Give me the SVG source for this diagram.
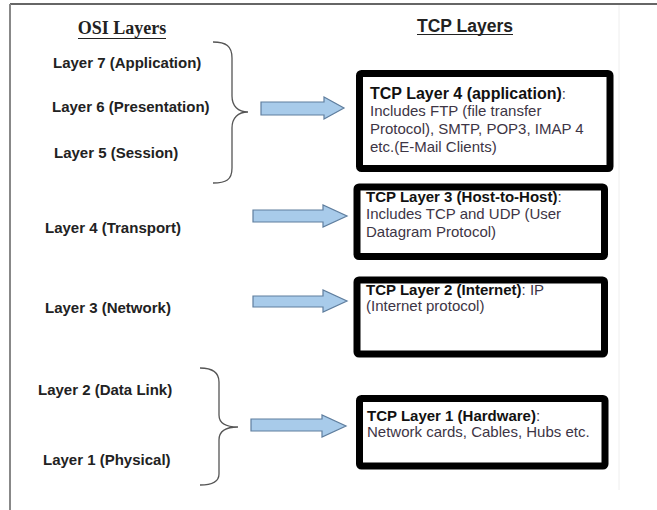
<svg xmlns="http://www.w3.org/2000/svg" width="657" height="510" viewBox="0 0 657 510">
<style>
.bg{fill:#fff}
.osi{font-family:"Liberation Sans",Arial,sans-serif;font-weight:bold;font-size:15px;fill:#222}
.box{fill:#fff;stroke:#000;stroke-width:7;stroke-linejoin:round}
.t{font-family:"Liberation Sans",Arial,sans-serif;font-size:15px;fill:#3d3545}
.b{font-weight:bold;fill:#111}
.arrow{fill:#a8cbea;stroke:#5f7e9e;stroke-width:1.2}
.brace{fill:none;stroke:#555;stroke-width:1.3}
</style>
<rect class="bg" width="657" height="510"/>
<g id="frame">
<line x1="10" y1="4" x2="657" y2="4" stroke="#333" stroke-width="1.5"/>
<line x1="10" y1="4" x2="10" y2="510" stroke="#888" stroke-width="2"/>
<line x1="619" y1="5" x2="619" y2="490" stroke="#eee" stroke-width="1"/>
</g>
<g id="headers">
<text x="122" y="34" text-anchor="middle" font-family="Liberation Serif,serif" font-weight="bold" font-size="18" fill="#222">OSI Layers</text>
<line x1="78" y1="38.5" x2="166" y2="38.5" stroke="#222" stroke-width="1"/>
<text x="465" y="32" text-anchor="middle" font-family="Liberation Sans,Arial,sans-serif" font-weight="bold" font-size="17.5" fill="#222">TCP Layers</text>
<line x1="417" y1="34.5" x2="513" y2="34.5" stroke="#222" stroke-width="1"/>
</g>
<g id="osi-labels">
<text class="osi" x="53" y="68">Layer 7 (Application)</text>
<text class="osi" x="52" y="112">Layer 6 (Presentation)</text>
<text class="osi" x="54" y="158">Layer 5 (Session)</text>
<text class="osi" x="45" y="233">Layer 4 (Transport)</text>
<text class="osi" x="45" y="313">Layer 3 (Network)</text>
<text class="osi" x="38" y="395">Layer 2 (Data Link)</text>
<text class="osi" x="43" y="465">Layer 1 (Physical)</text>
</g>
<g id="braces">
<path class="brace" d="M213 42 C226 42 232 46 232 58 L232 96 C232 106 238 112 248 112 C238 112 232 118 232 128 L232 168 C232 180 226 183 213 183"/>
<path class="brace" d="M200 368 C212 368 219 372 219 382 L219 415 C219 423 226 427 238 427 C226 427 219 431 219 440 L219 474 C219 482 212 485 200 485"/>
</g>
<g id="connectors">
<path class="arrow" d="M261 102 L324 102 L324 97 L344 108 L324 119 L324 115 L261 115 Z"/>
<path class="arrow" d="M253 210 L323 210 L323 205 L347 216 L323 227 L323 222 L253 222 Z"/>
<path class="arrow" d="M253 296 L323 296 L323 290 L347 301 L323 312 L323 307 L253 307 Z"/>
<path class="arrow" d="M251 419 L322 419 L322 415 L346 426 L322 437 L322 431 L251 431 Z"/>
</g>
<g id="tcp4">
<rect class="box" x="359.5" y="73.5" width="250.5" height="95" rx="2"/>
<text class="t" x="370" y="99"><tspan class="b" font-size="16">TCP Layer 4 (application)</tspan>:</text>
<text class="t" x="370" y="116">Includes FTP (file transfer</text>
<text class="t" x="370" y="134">Protocol), SMTP, POP3, IMAP 4</text>
<text class="t" x="370" y="152">etc.(E-Mail Clients)</text>
</g>
<g id="tcp3">
<rect class="box" x="357" y="187" width="247.5" height="69.5" rx="2"/>
<text class="t" x="366" y="202"><tspan class="b">TCP Layer 3 (Host-to-Host)</tspan>:</text>
<text class="t" x="366" y="219">Includes TCP and UDP (User</text>
<text class="t" x="366" y="237">Datagram Protocol)</text>
</g>
<g id="tcp2">
<rect class="box" x="357" y="280" width="247.5" height="74" rx="2"/>
<text class="t" x="366" y="295"><tspan class="b">TCP Layer 2 (Internet)</tspan>: IP</text>
<text class="t" x="366" y="311">(Internet protocol)</text>
</g>
<g id="tcp1">
<rect class="box" x="359.5" y="398.5" width="245.5" height="67.5" rx="2"/>
<text class="t" x="367" y="421"><tspan class="b">TCP Layer 1 (Hardware)</tspan>:</text>
<text class="t" x="367" y="437">Network cards, Cables, Hubs etc.</text>
</g>
</svg>
